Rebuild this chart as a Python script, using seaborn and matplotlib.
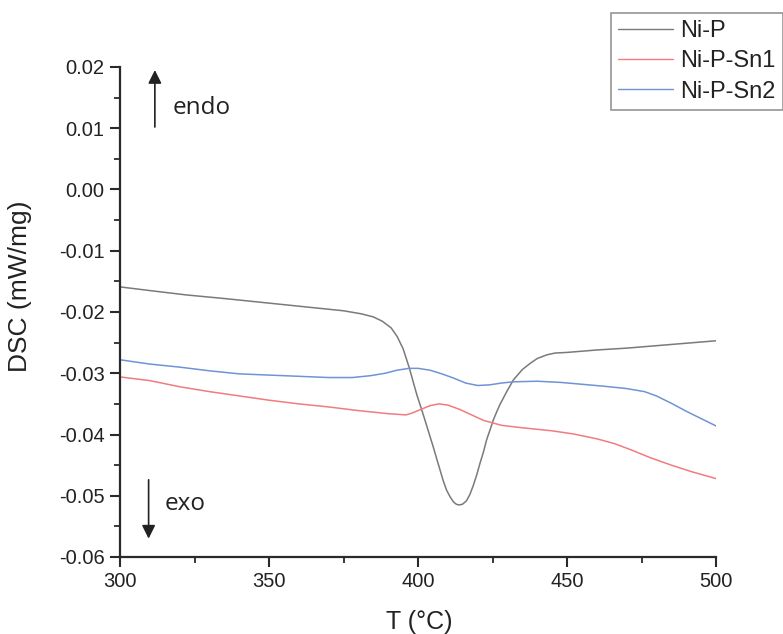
import numpy as np
import pandas as pd
import matplotlib
matplotlib.use("Agg")
import matplotlib.pyplot as plt
from matplotlib.ticker import MultipleLocator, FormatStrFormatter
from matplotlib.lines import Line2D
import seaborn as sns

# DSC traces, temperature in °C, heat flow in mW/mg
t_nip = [300, 310, 322, 335, 345, 355, 367, 375, 381, 385, 388, 391, 393, 395, 397,
         399.6, 401, 402.3, 403.7, 405.1, 406.3, 407.4, 408.5, 409.6, 410.8, 411.9,
         412.9, 413.8, 414.9, 416.3, 417.4, 418.5, 419.7, 420.8, 422, 423, 424.2,
         425.3, 426.5, 427.5, 430, 432, 435, 437.6, 440, 443.2, 446, 450, 460, 470,
         480, 490, 500]
dsc_nip = [-0.0159, -0.0165, -0.0172, -0.0178, -0.0183, -0.0188, -0.0194, -0.0198,
           -0.0203, -0.0208, -0.0215, -0.0226, -0.0240, -0.0260, -0.0290, -0.0335,
           -0.0356, -0.0376, -0.0398, -0.0420, -0.0440, -0.0458, -0.0476, -0.0491,
           -0.0502, -0.0510, -0.0514, -0.0515, -0.0514, -0.0508, -0.0498, -0.0484,
           -0.0466, -0.0447, -0.0428, -0.0409, -0.0392, -0.0376, -0.0362, -0.0351,
           -0.0328, -0.0311, -0.0294, -0.0284, -0.0276, -0.0270, -0.0267, -0.0266,
           -0.0262, -0.0259, -0.0255, -0.0251, -0.0247]

t_sn1 = [300, 310, 320, 330, 340, 350, 360, 370, 380, 390, 396, 398, 401, 404, 407,
         410, 414, 418, 422, 428, 435, 445, 452, 460, 466, 472, 478, 485, 492, 500]
dsc_sn1 = [-0.0306, -0.0312, -0.0322, -0.0330, -0.0337, -0.0344, -0.0350, -0.0355,
           -0.0361, -0.0366, -0.0368, -0.0365, -0.0359, -0.0353, -0.0350, -0.0352,
           -0.0359, -0.0368, -0.0377, -0.0385, -0.0389, -0.0394, -0.0399, -0.0407,
           -0.0415, -0.0426, -0.0438, -0.0450, -0.0461, -0.0472]

t_sn2 = [300, 310, 320, 330, 340, 350, 360, 370, 378, 384, 389, 393, 397, 400, 404,
         408, 412, 416, 420, 424, 428, 432, 440, 448, 455, 462, 470, 476, 480, 485,
         490, 495, 500]
dsc_sn2 = [-0.0278, -0.0285, -0.0290, -0.0296, -0.0301, -0.0303, -0.0305, -0.0307,
           -0.0307, -0.0304, -0.0300, -0.0295, -0.0292, -0.0292, -0.0295, -0.0301,
           -0.0308, -0.0316, -0.0320, -0.0319, -0.0316, -0.0314, -0.0313, -0.0315,
           -0.0318, -0.0321, -0.0325, -0.0330, -0.0337, -0.0349, -0.0362, -0.0374,
           -0.0386]

samples = ["Ni-P", "Ni-P-Sn1", "Ni-P-Sn2"]
colors = ["#7a7a7a", "#f07c80", "#6f93d6"]

df = pd.concat([
    pd.DataFrame({"T": t_nip, "DSC": dsc_nip, "sample": samples[0]}),
    pd.DataFrame({"T": t_sn1, "DSC": dsc_sn1, "sample": samples[1]}),
    pd.DataFrame({"T": t_sn2, "DSC": dsc_sn2, "sample": samples[2]}),
], ignore_index=True)

sns.set_style("ticks")
plt.rcParams["font.family"] = ["Liberation Sans", "DejaVu Sans"]

fig = plt.figure(figsize=(7.83, 6.34), dpi=100)
ax = fig.add_axes([120 / 783, 1 - 557 / 634, (716 - 120) / 783, (557 - 67) / 634])

sns.lineplot(data=df, x="T", y="DSC", hue="sample", hue_order=samples,
             palette=dict(zip(samples, colors)), sort=False, estimator=None,
             linewidth=1.1, ax=ax, legend=False)

ax.set_xlim(300, 500)
ax.set_ylim(-0.06, 0.02)
ax.xaxis.set_major_locator(MultipleLocator(50))
ax.xaxis.set_minor_locator(MultipleLocator(25))
ax.yaxis.set_major_locator(MultipleLocator(0.01))
ax.yaxis.set_minor_locator(MultipleLocator(0.005))
ax.yaxis.set_major_formatter(FormatStrFormatter("%.2f"))

for side in ("top", "right"):
    ax.spines[side].set_visible(False)
for side in ("left", "bottom"):
    ax.spines[side].set_linewidth(1.6)
    ax.spines[side].set_color("#2a2a2a")
ax.tick_params(which="major", length=7, width=1.5, color="#2a2a2a",
               labelsize=14.5, labelcolor="#222222", pad=4)
ax.tick_params(which="minor", length=4, width=1.3, color="#2a2a2a")

ax.set_xlabel("T (°C)", fontsize=18, color="#222222")
ax.set_ylabel("DSC (mW/mg)", fontsize=19, color="#222222")
ax.xaxis.set_label_coords(0.502, -0.108)
ax.yaxis.set_label_coords(-0.147, 0.553)

# endo / exo direction markers
ax.annotate("", xy=(311.7, 0.0195), xytext=(311.7, 0.0102),
            arrowprops=dict(arrowstyle="-|>", color="#222222", lw=1.2,
                            mutation_scale=20, shrinkA=0, shrinkB=0))
ax.text(317.5, 0.0133, "endo", fontsize=17.5, color="#222222", va="center",
        family=["Open Sans", "DejaVu Sans"])
ax.annotate("", xy=(309.6, -0.0570), xytext=(309.6, -0.0474),
            arrowprops=dict(arrowstyle="-|>", color="#222222", lw=1.2,
                            mutation_scale=20, shrinkA=0, shrinkB=0))
ax.text(315, -0.0514, "exo", fontsize=17.5, color="#222222", va="center",
        family=["Open Sans", "DejaVu Sans"])

handles = [Line2D([], [], color=c, lw=1.0) for c in colors]
leg = fig.legend(handles, samples, loc="upper right",
                 bbox_to_anchor=(783 / 783, 1 - 13 / 634), fontsize=17,
                 frameon=True, fancybox=False, handlelength=2.35,
                 handletextpad=0.3, borderpad=0.3, labelspacing=0.35,
                 borderaxespad=0)
leg.get_frame().set_edgecolor("#7a7a7a")
leg.get_frame().set_linewidth(1.2)
for txt in leg.get_texts():
    txt.set_color("#222222")

fig.savefig("out.png", dpi=100)
